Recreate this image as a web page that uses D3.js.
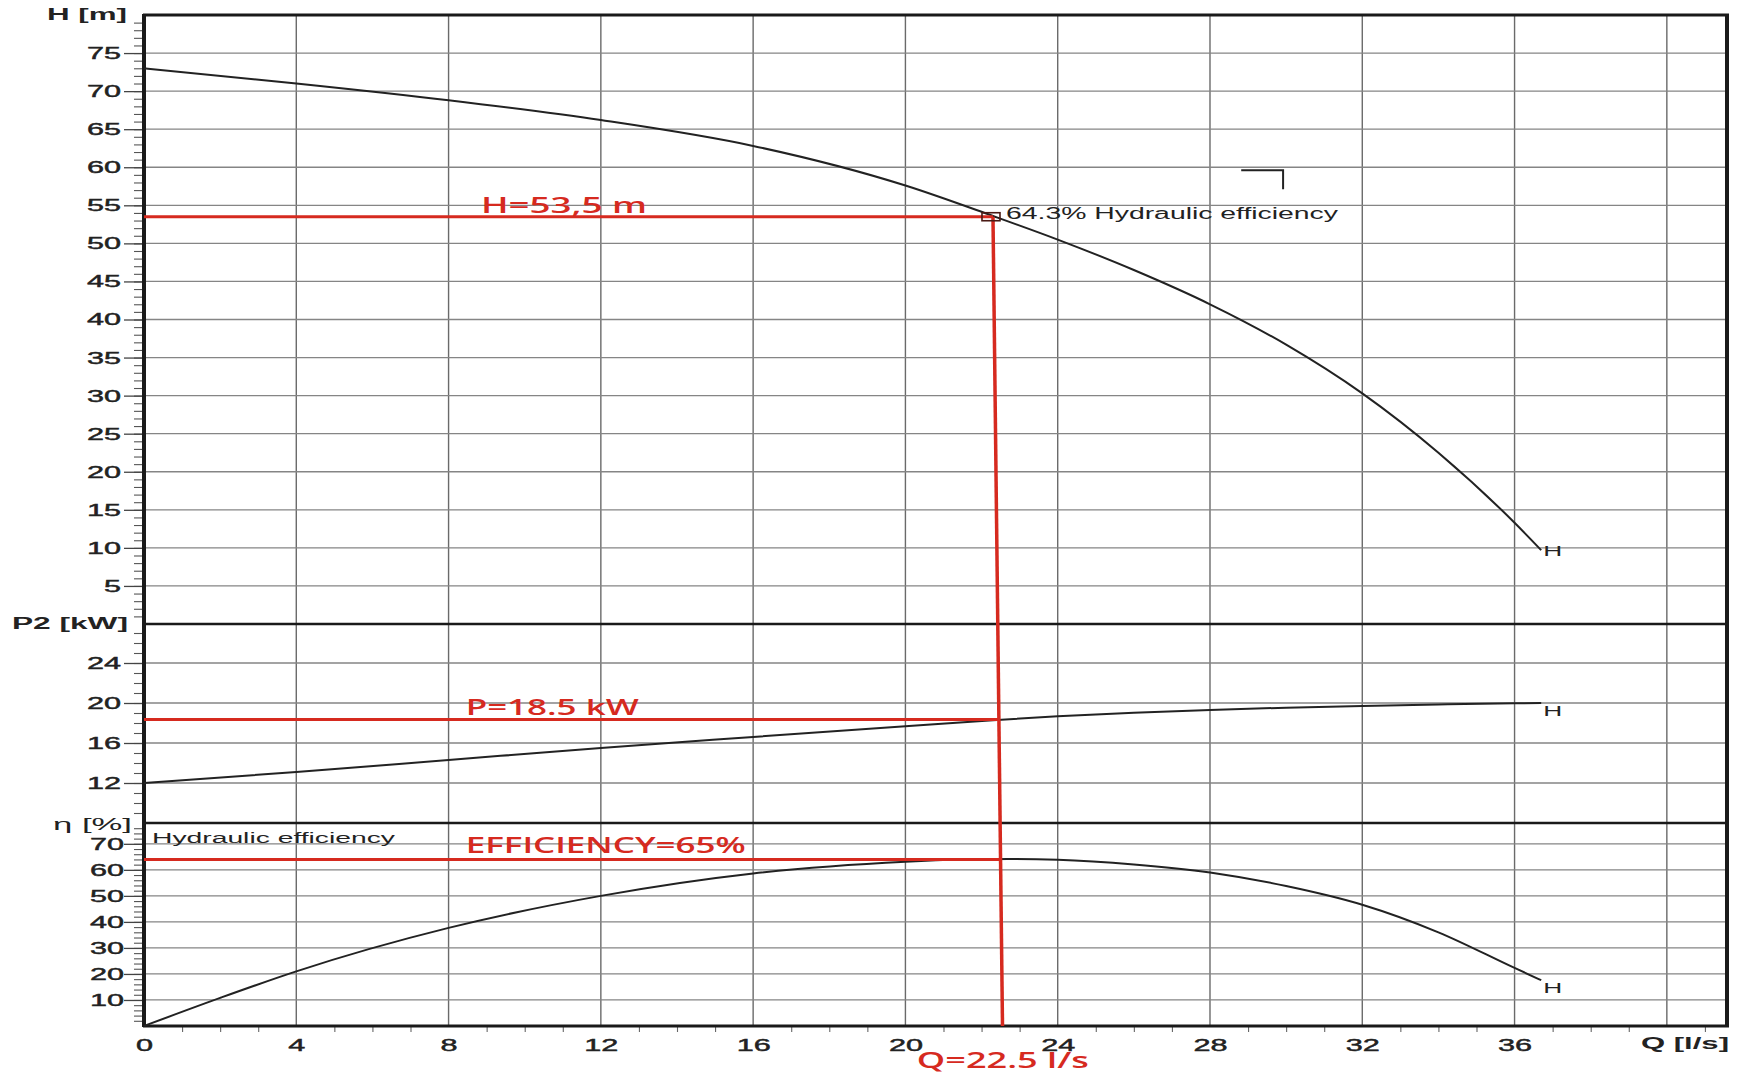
<!DOCTYPE html>
<html><head><meta charset="utf-8">
<script src="https://cdn.jsdelivr.net/npm/d3@7"></script>
<style>body{margin:0;background:#fff}svg{display:block}</style>
</head><body>
<svg id="c" width="1746" height="1073"></svg>
<script>
// ---- data ----
const qTicks = [0, 4, 8, 12, 16, 20, 24, 28, 32, 36];
const qGrid = [4, 8, 12, 16, 20, 24, 28, 32, 36, 40];
const hTicks = [5, 10, 15, 20, 25, 30, 35, 40, 45, 50, 55, 60, 65, 70, 75];
const pTicks = [12, 16, 20, 24];
const effTicks = [10, 20, 30, 40, 50, 60, 70];

const headQ = [0, 4, 8, 12, 16, 20, 22.3, 24, 26, 28, 30, 32, 34, 36, 36.7];
const headH = [73, 71, 68.8, 66.2, 62.8, 57.6, 53.6, 50.5, 46.5, 42.0, 36.7, 30.3, 22.5, 13.3, 9.7];

const powerQ = [0, 4, 8, 12, 16, 20, 22.3, 24, 26, 28, 30, 32, 34, 36, 36.7];
const powerP = [12.0, 13.1, 14.3, 15.5, 16.6, 17.68, 18.28, 18.67, 19.03, 19.31, 19.53, 19.71, 19.85, 19.97, 20.0];

const effQ = [0, 2, 4, 8, 12, 16, 20, 21.5, 22.7, 24, 26, 28, 30, 32, 34, 36, 36.7];
const effE = [0, 10.8, 21, 37.7, 50, 58.6, 63.1, 63.95, 64.2, 63.9, 62.1, 59.0, 53.8, 46.6, 36.0, 22.3, 17.6];

const dutyQTop = 22.3, dutyQBottom = 22.55;
const dutyH = 53.5, dutyP = 18.35, dutyEff = 64;
const bracketQ = [28.82, 29.92, 29.92];
const bracketH = [59.6, 59.6, 57.1];

// ---- scales ----
const x = d3.scaleLinear().domain([0, 41.58]).range([144, 1727]);
const yH = d3.scaleLinear().domain([0, 80]).range([624, 15]);
const yP = d3.scaleLinear().domain([8, 28]).range([823, 623]);
const yE = d3.scaleLinear().domain([0, 78]).range([1026, 823]);

const svg = d3.select('#c');
svg.append('rect').attr('width', 1746).attr('height', 1073).attr('fill', '#fff');
const FONT = '"Liberation Sans", Arial, sans-serif';
const RED = '#d62a1f';
const INK = '#222';

function stretch(sel, f) {
  sel.each(function () {
    const w = this.getComputedTextLength();
    this.setAttribute('textLength', w * f);
    this.setAttribute('lengthAdjust', 'spacingAndGlyphs');
  });
}
function fit(sel, w) { sel.attr('textLength', w).attr('lengthAdjust', 'spacingAndGlyphs'); }

const X0 = x.range()[0], X1 = x.range()[1];
const YT = yH.range()[1], YB = yE.range()[0];

// ---- grid ----
const grid = svg.append('g');
grid.selectAll('.vg').data(qGrid).enter().append('line')
  .attr('x1', d => x(d)).attr('x2', d => x(d)).attr('y1', YT).attr('y2', YB)
  .attr('stroke', '#6a6a6a').attr('stroke-width', 1.4);
function hgrid(ticks, s) {
  grid.append('g').selectAll('line').data(ticks).enter().append('line')
    .attr('x1', X0).attr('x2', X1).attr('y1', d => s(d)).attr('y2', d => s(d))
    .attr('stroke', '#858585').attr('stroke-width', 1.3);
}
hgrid(hTicks, yH); hgrid(pTicks, yP); hgrid(effTicks, yE);

// panel separators
[yH(0), yE(78)].forEach(y => {
  svg.append('line').attr('x1', X0).attr('x2', X1).attr('y1', y).attr('y2', y)
    .attr('stroke', '#1a1a1a').attr('stroke-width', 2.6);
});

// ---- axes ----
function leftAxis(s, ticks, minorStep, labelOff) {
  const dom = s.domain();
  const minor = d3.range(Math.ceil(dom[0] / minorStep) * minorStep, dom[1] + 1e-9, minorStep)
    .filter(v => v > dom[0] + 1e-9 && v < dom[1] - 1e-9);
  const gm = svg.append('g').attr('transform', `translate(${X0},0)`)
    .call(d3.axisLeft(s).tickValues(minor).tickSize(10).tickFormat(''));
  gm.select('.domain').remove();
  gm.selectAll('line').attr('stroke', '#555').attr('stroke-width', 1.1);
  const g = svg.append('g').attr('transform', `translate(${X0},0)`)
    .call(d3.axisLeft(s).tickValues(ticks).tickSize(20).tickPadding(labelOff - 20).tickFormat(d3.format('d')));
  g.select('.domain').remove();
  g.selectAll('line').attr('stroke', '#444').attr('stroke-width', 1.3);
  g.selectAll('text').attr('font-family', FONT).attr('font-size', 17).attr('fill', INK)
    .attr('stroke', INK).attr('stroke-width', 0.45)
    .call(stretch, 1.8);
}
leftAxis(yH, hTicks, 1, 23);
leftAxis(yP, pTicks, 1, 23);
leftAxis(yE, effTicks, 2, 20);

// x axis
const xMinor = d3.range(1, 42).filter(v => v % 4 !== 0);
const gxm = svg.append('g').attr('transform', `translate(0,${YB})`)
  .call(d3.axisBottom(x).tickValues(xMinor).tickSize(6).tickFormat(''));
gxm.select('.domain').remove();
gxm.selectAll('line').attr('stroke', '#666').attr('stroke-width', 1.1);
const gx = svg.append('g').attr('transform', `translate(0,${YB})`)
  .call(d3.axisBottom(x).tickValues(qTicks).tickSize(0).tickPadding(13).tickFormat(d3.format('d')));
gx.select('.domain').remove();
gx.selectAll('text').attr('font-family', FONT).attr('font-size', 17).attr('fill', INK)
  .attr('stroke', INK).attr('stroke-width', 0.45)
  .call(stretch, 1.8);

// frame
svg.append('line').attr('x1', X0 - 1).attr('x2', X1 + 2).attr('y1', YT).attr('y2', YT).attr('stroke', '#1a1a1a').attr('stroke-width', 3);
svg.append('line').attr('x1', X0 - 1).attr('x2', X1 + 2).attr('y1', YB).attr('y2', YB).attr('stroke', '#1a1a1a').attr('stroke-width', 3);
svg.append('line').attr('x1', X0).attr('x2', X0).attr('y1', YT - 1).attr('y2', YB + 1).attr('stroke', '#1a1a1a').attr('stroke-width', 4);
svg.append('line').attr('x1', X1).attr('x2', X1).attr('y1', YT - 1).attr('y2', YB + 1).attr('stroke', '#1a1a1a').attr('stroke-width', 4);

// axis titles
function title(txt, xr, y, w, bold) {
  svg.append('text').attr('x', xr).attr('y', y).attr('text-anchor', 'end')
    .attr('dominant-baseline', 'middle')
    .attr('font-family', FONT).attr('font-size', 16).attr('font-weight', bold ? 'bold' : 'normal')
    .attr('fill', INK).text(txt).call(fit, w);
}
title('H [m]', 127, YT + 1, 80, true);
title('P2 [kW]', 128, yH(0) + 1, 116, true);
title('η [%]', 132, yE(78) + 3, 79, false);
title('Q [l/s]', 1729, 1045, 88, true);

// ---- curves ----
const line = d3.line().curve(d3.curveMonotoneX);
function curve(qs, vs, s) {
  svg.append('path').attr('d', line(qs.map((q, i) => [x(q), s(vs[i])])))
    .attr('fill', 'none').attr('stroke', INK).attr('stroke-width', 2);
}
curve(headQ, headH, yH);
curve(powerQ, powerP, yP);
curve(effQ, effE, yE);

// end labels "H"
function endLabel(qs, vs, s, dy) {
  const n = qs.length - 1;
  svg.append('text').attr('x', x(qs[n]) + 2).attr('y', s(vs[n]) + dy)
    .attr('dominant-baseline', 'middle').attr('font-family', FONT).attr('font-size', 14)
    .attr('fill', INK).text('H').call(fit, 19);
}
endLabel(headQ, headH, yH, 2);
endLabel(powerQ, powerP, yP, 9);
endLabel(effQ, effE, yE, 9);

// small bracket mark
svg.append('path').attr('d', d3.line()(bracketQ.map((q, i) => [x(q), yH(bracketH[i])])))
  .attr('fill', 'none').attr('stroke', INK).attr('stroke-width', 2);

// ---- duty point (red) ----
const topY = yH(dutyH), botY = YB;
const xAt = y => x(dutyQTop) + (x(dutyQBottom) - x(dutyQTop)) * (y - topY) / (botY - topY);
[topY, yP(dutyP), yE(dutyEff)].forEach(y => {
  svg.append('line').attr('x1', X0).attr('x2', xAt(y)).attr('y1', y).attr('y2', y)
    .attr('stroke', RED).attr('stroke-width', 3);
});
svg.append('line').attr('x1', x(dutyQTop)).attr('x2', x(dutyQBottom)).attr('y1', topY).attr('y2', botY)
  .attr('stroke', RED).attr('stroke-width', 3.5);
svg.append('rect').attr('x', x(dutyQTop) - 11).attr('y', topY - 4).attr('width', 18).attr('height', 8)
  .attr('fill', 'none').attr('stroke', '#4a1a14').attr('stroke-width', 1.6);

// annotations
svg.append('text').attr('x', x(dutyQTop) + 13).attr('y', topY + 2)
  .attr('font-family', FONT).attr('font-size', 16).attr('fill', INK)
  .text('64.3% Hydraulic efficiency').call(fit, 332);
svg.append('text').attr('x', X0 + 8).attr('y', yE(78) + 20)
  .attr('font-family', FONT).attr('font-size', 15.5).attr('fill', INK)
  .text('Hydraulic efficiency').call(fit, 243);

function redText(txt, qx, y, w) {
  svg.append('text').attr('x', x(qx)).attr('y', y)
    .attr('font-family', '"Open Sans", "DejaVu Sans", sans-serif').attr('font-size', 21)
    .attr('font-weight', 600).attr('fill', RED)
    .text(txt).call(fit, w);
}
redText('H=53,5 m', 8.85, topY - 4, 166);
redText('P=18.5 kW', 8.45, yP(dutyP) - 5, 173);
redText('EFFICIENCY=65%', 8.45, yE(dutyEff) - 6, 280);
redText('Q=22.5 l/s', 20.3, 1068, 172);
</script>
</body></html>
